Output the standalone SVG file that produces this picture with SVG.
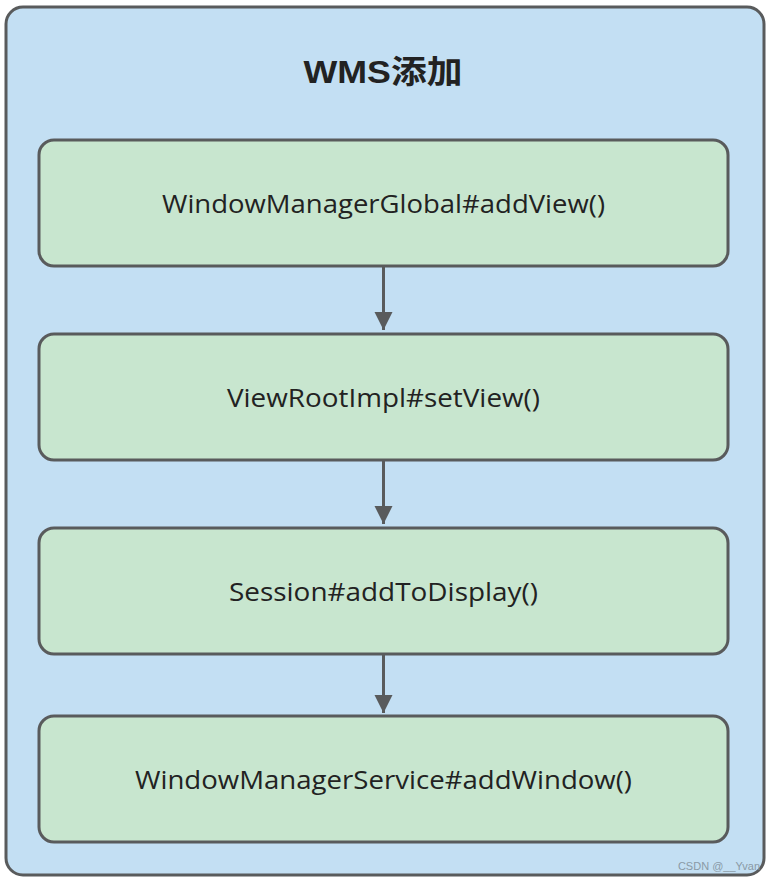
<svg xmlns="http://www.w3.org/2000/svg" width="774" height="882" viewBox="0 0 774 882">
<style>
.node rect{fill:#c8e6cf;stroke:#595b5c;stroke-width:3}
.node text{font-family:"Open Sans","Liberation Sans",Arial,sans-serif;font-size:25px;fill:#222;text-anchor:middle;dominant-baseline:central}
.conn line{stroke:#595b5c;stroke-width:3}
</style>
<defs>
<marker id="ah" markerUnits="userSpaceOnUse" markerWidth="20" markerHeight="24" refX="18" refY="9" orient="auto">
<path d="M0,0 L18,9 L0,18 Z" fill="#595b5c"/>
</marker>
</defs>
<g id="container">
<rect x="6" y="7" width="758" height="868" rx="17" fill="#c3dff3" stroke="#595b5c" stroke-width="3"/>
<text x="383" y="72" font-family="'Liberation Sans','Noto Sans CJK SC',sans-serif" font-size="32" font-weight="bold" fill="#222" text-anchor="middle" dominant-baseline="central" textLength="159" lengthAdjust="spacingAndGlyphs">WMS添加</text>
</g>
<g id="n1" class="node"><rect x="39" y="140" width="689" height="126" rx="15"/><text x="383.5" y="203" textLength="443" lengthAdjust="spacingAndGlyphs">WindowManagerGlobal#addView()</text></g>
<g id="n2" class="node"><rect x="39" y="334" width="689" height="126" rx="15"/><text x="383.5" y="397" textLength="313" lengthAdjust="spacingAndGlyphs">ViewRootImpl#setView()</text></g>
<g id="n3" class="node"><rect x="39" y="528" width="689" height="126" rx="15"/><text x="383.5" y="591" textLength="309" lengthAdjust="spacingAndGlyphs">Session#addToDisplay()</text></g>
<g id="n4" class="node"><rect x="39" y="716" width="689" height="126" rx="15"/><text x="383.5" y="779" textLength="497" lengthAdjust="spacingAndGlyphs">WindowManagerService#addWindow()</text></g>
<g id="connectors" class="conn">
<line x1="383.5" y1="267" x2="383.5" y2="330" marker-end="url(#ah)"/>
<line x1="383.5" y1="461" x2="383.5" y2="524" marker-end="url(#ah)"/>
<line x1="383.5" y1="655" x2="383.5" y2="713" marker-end="url(#ah)"/>
</g>
<text x="760" y="866" font-family="'Liberation Sans',sans-serif" font-size="11" fill="#8a9aa6" text-anchor="end" dominant-baseline="central">CSDN @__Yvan</text>
</svg>
